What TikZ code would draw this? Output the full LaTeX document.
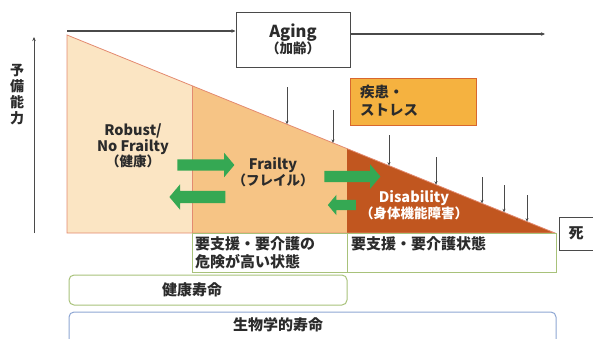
\documentclass[tikz,border=0pt]{standalone}
\usepackage{fontspec}
\setmainfont{Noto Sans CJK JP}
\usetikzlibrary{shapes.arrows,arrows.meta}
\definecolor{txt}{HTML}{2B2B2B}
\definecolor{robustc}{HTML}{FBE5C3}
\definecolor{frailc}{HTML}{F6C485}
\definecolor{disc}{HTML}{C1561F}
\definecolor{edgec}{HTML}{E38A70}
\definecolor{stressc}{HTML}{F5B240}
\definecolor{stressb}{HTML}{D8672E}
\definecolor{gar}{HTML}{35A853}
\definecolor{gbox}{HTML}{A8C27A}
\definecolor{bbox}{HTML}{8DA6D3}
\definecolor{axisc}{HTML}{4A4A4A}
\newcommand{\lat}{\fontsize{14.5}{17}\selectfont}
\newcommand{\jsm}{\fontsize{13.5}{17}\selectfont}
\tikzset{
  lbl/.style={font=\bfseries, text=txt, align=center, inner sep=0pt},
  jp/.style={font=\bfseries\fontsize{15}{18}\selectfont, text=txt, align=left, inner sep=0pt},
  garrow/.style={shape=single arrow, fill=gar, inner xsep=0pt, inner ysep=5.5pt, single arrow tip angle=100, single arrow head extend=6.5pt},
  gleft/.style={garrow, shape border rotate=180},
  drop/.style={draw=axisc, line width=0.7pt, -{Stealth[length=3.5pt,width=3pt]}},
  plainbox/.style={draw=#1, line width=1pt, inner sep=0pt},
}
\begin{document}
\begin{tikzpicture}[x=1pt,y=-1pt]
\useasboundingbox (0,0) rectangle (593,338);
% triangle regions
\fill[robustc] (67,35) -- (192,85.7) -- (192,233) -- (67,233) -- cycle;
\fill[frailc] (192,85.7) -- (347,148.6) -- (347,233) -- (192,233) -- cycle;
\fill[disc] (347,148.6) -- (555,233) -- (347,233) -- cycle;
\draw[edgec, line width=0.8pt] (67,35) -- (555,233) -- (67,233) -- cycle;
\draw[edgec, line width=0.8pt] (192,85.7) -- (192,233);
% y axis
\coordinate (ax0) at (34,233);
\coordinate (ax1) at (34,37);
\draw[axisc, line width=1pt, -{Stealth[length=4pt,width=3.5pt]}] (ax0) -- (ax1);
\node[font=\bfseries\fontsize{14}{16}\selectfont, text=txt, align=center, inner sep=0pt] (yl) at (17,95) {予\\備\\能\\力};
% aging
\node[plainbox=axisc, minimum width=114pt, minimum height=55pt, font=\bfseries, text=txt, align=center] (aging) at (293,39.5) {{\fontsize{16.5}{20}\selectfont Aging}\\{\fontsize{13.5}{20}\selectfont （加齢）}};
\coordinate (agstart) at (67,31);
\coordinate (agend) at (545,34);
\draw[axisc, line width=1.1pt, -{Stealth[length=4pt,width=3.5pt]}] (agstart) -- (agstart -| aging.west);
\draw[axisc, line width=1.1pt, -{Stealth[length=4pt,width=3.5pt]}] (agend -| aging.east) -- (agend);
% stress
\node[draw=stressb, fill=stressc, line width=1pt, minimum width=126pt, minimum height=47pt, inner sep=0pt] (stress) at (413,101.5) {};
\node[jp, font=\bfseries\fontsize{14.5}{18}\selectfont, anchor=west] (stresst) at (360,101) {疾患・\\ストレス};
% drop arrows
\foreach \x/\yt [count=\i] in {287/87, 333/110, 389/135, 436/157, 482/177, 504/185, 527/195}{
  \coordinate (dt\i) at (\x,\yt);
  \coordinate (db\i) at (\x,{35+(\x-67)*0.40574});
  \draw[drop] (dt\i) -- (db\i);
}
% labels
\node[lbl] (robust) at (133,146) {{\lat Robust/}\\{\lat No Frailty}\\{\jsm （健康）}};
\node[lbl] (frailty) at (273,172) {{\lat Frailty}\\{\jsm （フレイル）}};
\node[lbl, text=white] (disab) at (414,205) {{\lat Disability}\\{\jsm （身体機能障害）}};
% green arrows
\node[garrow, minimum height=57pt] (r1) at (203.5,165) {};
\node[gleft, minimum height=56pt, inner ysep=6pt] (l1) at (200,197) {};
\node[garrow, minimum height=56pt] (r2) at (350,176.5) {};
\node[gleft, minimum height=28pt, inner ysep=5pt, single arrow head extend=5pt] (l2) at (344,205) {};
% bottom boxes
\node[plainbox=gbox, minimum width=155pt, minimum height=39pt] (risk) at (269.5,252.5) {};
\node[jp, anchor=north west] (riskt) at (195,236) {要支援・要介護の\\危険が高い状態};
\node[plainbox=gbox, minimum width=209pt, minimum height=39pt] (care) at (451.5,252.5) {};
\node[jp, anchor=north west] (caret) at (351,236) {要支援・要介護状態};
\node[plainbox=gbox, rounded corners=5pt, minimum width=278pt, minimum height=30pt] (healthy) at (208,290) {};
\node[jp] (healthyt) at (192,290) {健康寿命};
\node[plainbox=bbox, rounded corners=5pt, minimum width=487pt, minimum height=36pt] (bio) at (312.5,330) {};
\node[jp] (biot) at (278,325) {生物学的寿命};
\node[plainbox=axisc, minimum width=40pt, minimum height=33pt] (death) at (579,233.5) {};
\node[jp] (deatht) at (576,233) {死};
\end{tikzpicture}
\end{document}
